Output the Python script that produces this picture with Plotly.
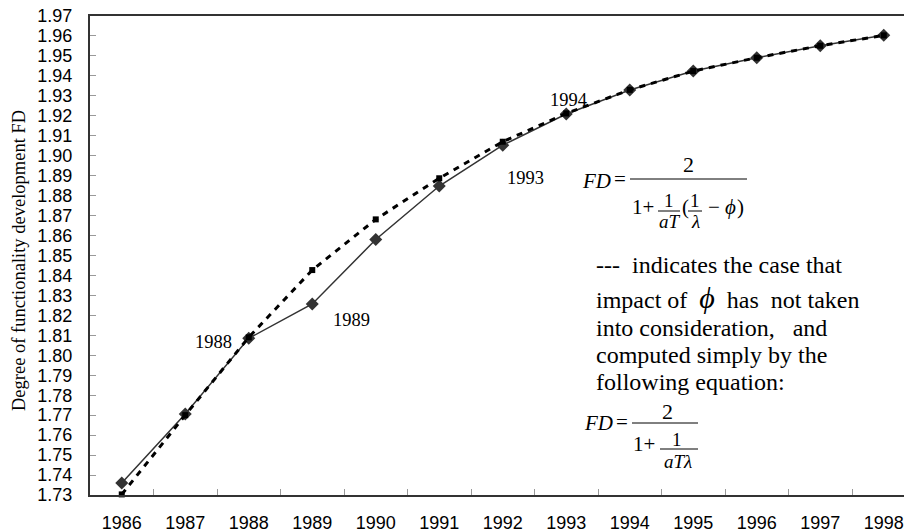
import plotly.graph_objects as go

# ---------------- data ----------------
years = ["1986", "1987", "1988", "1989", "1990", "1991", "1992",
         "1993", "1994", "1995", "1996", "1997", "1998"]
fd_with_phi = [1.736, 1.7706, 1.8085, 1.8257, 1.858, 1.8848, 1.9053,
               1.9209, 1.9329, 1.9424, 1.9491, 1.9551, 1.9603]
fd_without_phi = [1.7303, 1.7700, 1.8090, 1.8427, 1.8681, 1.8887, 1.9070,
                  1.9212, 1.9330, 1.9424, 1.9491, 1.9551, 1.9603]
y_ticks = [round(1.73 + 0.01 * i, 2) for i in range(25)]
point_labels = ["1988", "1989", "1993", "1994"]
y_title = "Degree of functionality development FD"
note_lines = ["---  indicates the case that",
              "impact of  <span style='font-size:30px'><i>ϕ</i></span>  has  not taken",
              "into consideration,   and",
              "computed simply by the",
              "following equation:"]

# ---------------- geometry helpers ----------------
W, H = 904, 532
L, R, T, B = 90, 904, 16, 495


def px(x):
    return (x - L) / (R - L)


def py(y):
    return (B - y) / (B - T)


SERIF = "Liberation Serif, Times New Roman, serif"
SANS = "Liberation Sans, Arial, sans-serif"

fig = go.Figure()

fig.add_trace(go.Scatter(
    x=years, y=fd_with_phi, mode="lines+markers",
    line=dict(color="#333333", width=1.5),
    marker=dict(symbol="diamond", size=10, color="#333333"),
    cliponaxis=False, showlegend=False))

fig.add_trace(go.Scatter(
    x=years, y=fd_without_phi, mode="lines+markers",
    line=dict(color="#000000", width=3, dash="6px,6px"),
    marker=dict(symbol="square", size=6, color="#000000"),
    cliponaxis=False, showlegend=False))

annotations = []
shapes = []


def txt(s, x, y, size, font=SERIF, xanchor="center", yanchor="middle", angle=0):
    annotations.append(dict(text=s, x=px(x), y=py(y), xref="paper", yref="paper",
                            xanchor=xanchor, yanchor=yanchor, showarrow=False,
                            textangle=angle,
                            font=dict(family=font, size=size, color="#000000")))


def bar(x0, x1, y):
    shapes.append(dict(type="line", xref="paper", yref="paper",
                       x0=px(x0), x1=px(x1), y0=py(y), y1=py(y),
                       line=dict(color="#000000", width=1)))


# y-axis title
txt(y_title, 19, 261, 18.5, angle=-90)

# point labels
label_pos = [(213, 342), (351, 320), (525, 178), (568, 100)]
for s, (x, y) in zip(point_labels, label_pos):
    txt(s, x, y, 18.5)

# equation 1
txt("<i>FD</i>", 596, 181, 21)
txt("=", 620, 179, 21)
bar(630, 747, 179)
txt("2", 688, 165, 22)
txt("1+", 643, 207, 21)
bar(658, 680, 211)
txt("1", 669, 200, 19)
txt("<i>aT</i>", 670, 221, 19)
txt("(", 685, 207, 21)
bar(688, 702, 211)
txt("1", 695, 200, 19)
txt("<i>λ</i>", 695, 221, 19)
txt("−", 714, 207, 21)
txt("<i>ϕ</i>", 730, 207, 21)
txt(")", 740, 207, 21)

# note text
note_y = [265, 297, 328, 355, 382]
for s, y in zip(note_lines, note_y):
    txt(s, 594, y, 24, xanchor="left")

# equation 2
txt("<i>FD</i>", 598, 423, 21)
txt("=", 622, 422, 21)
bar(632, 698, 423)
txt("2", 667, 411, 22)
txt("1+", 644, 444, 21)
bar(660, 698, 449)
txt("1", 677, 439, 19)
txt("<i>aTλ</i>", 678, 461, 19)

fig.update_layout(
    width=W, height=H,
    margin=dict(l=L, r=W - R, t=T, b=H - B, pad=0),
    paper_bgcolor="white", plot_bgcolor="white",
    annotations=annotations, shapes=shapes,
    xaxis=dict(type="category", range=[-0.5, -0.5 + (R - L) / 63.5],
               tickson="boundaries", ticks="inside", ticklen=6,
               tickcolor="#999999", tickwidth=1,
               showline=True, linecolor="#333333", linewidth=2, mirror=True,
               showgrid=False, zeroline=False,
               tickfont=dict(family=SANS, size=18, color="#000000"),
               ticklabelstandoff=10),
    yaxis=dict(range=[1.73, 1.97], tickvals=y_ticks, tickformat=".2f",
               ticks="inside", ticklen=6, tickcolor="#999999", tickwidth=1,
               showline=True, linecolor="#333333", linewidth=2, mirror=False,
               showgrid=False, zeroline=False,
               tickfont=dict(family=SANS, size=18, color="#000000"),
               ticklabelstandoff=12),
)

fig.write_html("out.html",
               config={"displayModeBar": False},
               post_script="document.body.style.margin='0';"
                           "document.body.style.padding='0';"
                           "document.body.style.overflow='hidden';")
